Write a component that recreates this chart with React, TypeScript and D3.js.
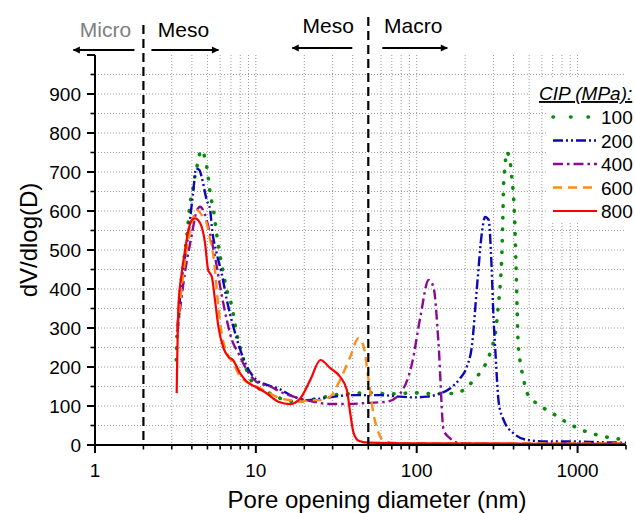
import React, { useEffect, useRef } from 'react';
import * as d3 from 'd3';

// pore opening diameter (nm) and dV/dlog(D) for each CIP pressure
const dia100 = [3.2, 3.25, 3.3, 3.38, 3.55, 3.72, 3.9, 4.05, 4.19, 4.4, 4.54, 4.72, 4.95, 5.08, 5.2, 5.45, 5.7, 6.0, 6.28, 6.6, 7.1, 7.6, 8.17, 9, 10.1, 12.3, 14.1, 17.9, 20.8, 25, 30.4, 40.5, 51.4, 65.4, 78.8, 95.6, 116, 140, 170, 195, 231, 266, 292, 308, 324, 331, 339, 343, 347, 354, 361, 381, 390, 400, 405, 410, 416, 421, 427, 438, 458, 487, 555, 677, 840, 1040, 1320, 1680, 2000];
const val100 = [218, 300, 320, 389, 466, 534, 620, 654, 692, 731, 756, 748, 714, 679, 645, 603, 543, 483, 440, 397, 355, 286, 235, 179, 150, 132, 120, 111, 115, 120, 128, 132, 134, 131, 132, 134, 132, 132, 132, 141, 171, 205, 248, 286, 372, 415, 500, 580, 671, 714, 752, 726, 684, 637, 595, 526, 432, 346, 261, 218, 175, 132, 107, 85, 60, 40, 26, 17, 14];

const dia200 = [3.25, 3.46, 3.81, 4.09, 4.25, 4.46, 4.6, 4.95, 5.2, 5.32, 5.7, 6.13, 6.6, 7.25, 8, 8.8, 10.1, 11.7, 13.8, 17.1, 20.8, 26.3, 33.4, 42.4, 50, 59.4, 78.8, 95.6, 116, 140, 161, 186, 205, 220, 237, 254, 266, 280, 292, 300, 308, 324, 347, 400, 487, 646, 943, 1400, 2000];
const val200 = [300, 423, 543, 654, 709, 705, 688, 628, 603, 560, 492, 440, 372, 303, 244, 201, 167, 154, 145, 124, 115, 120, 126, 128, 128, 128, 124, 122, 124, 132, 145, 171, 201, 252, 406, 543, 585, 577, 457, 329, 244, 107, 64, 30, 13, 9, 9, 7, 6];

const dia400 = [3.25, 3.63, 4.0, 4.25, 4.5, 4.83, 5.2, 5.57, 6.0, 6.6, 7.1, 7.8, 8.8, 10.1, 12.3, 14.1, 20.8, 29, 36.8, 50, 65, 78.8, 93.5, 105.4, 118.6, 127, 136.6, 147, 161.5, 186, 300, 1000, 2000];
const val400 = [290, 444, 540, 595, 611, 590, 540, 483, 406, 320, 269, 235, 192, 162, 150, 137, 115, 105, 105, 108, 111, 132, 209, 329, 423, 406, 261, 38, 17, 4, 3, 3, 3];

const dia600 = [3.25, 3.63, 4.0, 4.29, 4.6, 4.95, 5.2, 5.45, 5.85, 6.13, 6.6, 7.25, 8, 10.1, 12.3, 14.1, 16.3, 18.9, 21.8, 25.2, 29, 33.4, 38.6, 43.5, 46.8, 50.2, 53.8, 57.9, 62.1, 75, 200, 2000];
const val600 = [300, 474, 570, 603, 590, 568, 526, 483, 355, 286, 236, 209, 175, 150, 132, 120, 115, 111, 115, 115, 124, 167, 226, 274, 252, 167, 81, 31, 11, 5, 4, 4];

const dia800 = [3.22, 3.3, 3.46, 3.63, 3.81, 4.0, 4.19, 4.5, 4.83, 5.05, 5.32, 5.57, 5.85, 6.3, 6.75, 7.2, 7.98, 8.8, 10.1, 11.7, 13.8, 16.3, 18.9, 21.8, 25.2, 29, 33.4, 36.8, 38.6, 40.5, 43.5, 50, 100, 2000];
const val800 = [133, 355, 441, 500, 551, 577, 581, 569, 518, 449, 432, 372, 303, 248, 226, 218, 184, 162, 148, 132, 111, 105, 120, 167, 218, 197, 175, 141, 82, 31, 11, 6, 4, 3];

const pressures = ['100', '200', '400', '600', '800'];
const yTickLabels = ['0', '100', '200', '300', '400', '500', '600', '700', '800', '900'];
const xTickLabels = ['1', '10', '100', '1000'];
const boundaries = [2, 50];

const W = 635;
const H = 513;
const font = '"Liberation Sans", Arial, sans-serif';

export default function App() {
  const ref = useRef<SVGSVGElement>(null);

  useEffect(() => {
    const svg = d3.select(ref.current);
    svg.selectAll('*').remove();

    const x = d3.scaleLog().domain([1, 2000]).range([95, 626]);
    const y = d3.scaleLinear().domain([0, 1000]).range([445, 55]);

    const defs = svg.append('defs');
    defs
      .append('marker')
      .attr('id', 'arr')
      .attr('viewBox', '0 0 10 10')
      .attr('refX', 9)
      .attr('refY', 5)
      .attr('markerWidth', 5)
      .attr('markerHeight', 4)
      .attr('markerUnits', 'strokeWidth')
      .attr('orient', 'auto')
      .append('path')
      .attr('d', 'M0,0 L10,5 L0,10 Z')
      .attr('fill', '#000');

    /* ------- GRID -------*/
    const grid = svg.append('g');
    const yGrid = d3.range(50, 1000, 50);
    grid
      .selectAll('line.h')
      .data(yGrid)
      .enter()
      .append('line')
      .attr('x1', x(1))
      .attr('x2', x(2000))
      .attr('y1', d => y(d))
      .attr('y2', d => y(d))
      .attr('stroke', '#9a9a9a')
      .attr('stroke-width', 1)
      .attr('stroke-dasharray', '1 2');

    const xGrid: number[] = [];
    [1, 10, 100].forEach(dec => {
      for (let k = 2; k <= 10; k++) xGrid.push(k * dec);
    });
    grid
      .selectAll('line.v')
      .data(xGrid.filter(d => boundaries.indexOf(d) < 0))
      .enter()
      .append('line')
      .attr('x1', d => x(d))
      .attr('x2', d => x(d))
      .attr('y1', y(1000))
      .attr('y2', y(0))
      .attr('stroke', '#9a9a9a')
      .attr('stroke-width', 1)
      .attr('stroke-dasharray', '1 2');

    /* ------- LEGEND BACKGROUND -------*/
    svg.append('rect').attr('x', 530).attr('y', 77).attr('width', 105).attr('height', 27).attr('fill', '#fff');
    svg.append('rect').attr('x', 546).attr('y', 104).attr('width', 89).attr('height', 118).attr('fill', '#fff');

    /* ------- CURVES -------*/
    const series = [
      { dia: dia100, val: val100, color: '#0b8a0b', dash: '0.5 11', width: 3.6, cap: 'round' },
      { dia: dia200, val: val200, color: '#0a0ab4', dash: '10 3 2 3 2 3', width: 2.4, cap: 'butt' },
      { dia: dia400, val: val400, color: '#8a0a92', dash: '10 4 2.5 4', width: 2.4, cap: 'butt' },
      { dia: dia600, val: val600, color: '#ff8c1a', dash: '9 6', width: 2.4, cap: 'butt' },
      { dia: dia800, val: val800, color: '#ff0000', dash: null, width: 2.2, cap: 'butt' }
    ];

    const line = d3
      .line<[number, number]>()
      .x(d => x(d[0]))
      .y(d => y(d[1]))
      .curve(d3.curveMonotoneX);

    const curves = svg.append('g');
    series.forEach(s => {
      const pts: [number, number][] = s.dia.map((d, i) => [d, s.val[i]]);
      curves
        .append('path')
        .attr('d', line(pts))
        .attr('fill', 'none')
        .attr('stroke', s.color)
        .attr('stroke-width', s.width)
        .attr('stroke-linecap', s.cap)
        .attr('stroke-dasharray', s.dash);
    });

    /* ------- BOUNDARY LINES -------*/
    svg
      .selectAll('line.bound')
      .data(boundaries)
      .enter()
      .append('line')
      .attr('x1', d => x(d))
      .attr('x2', d => x(d))
      .attr('y1', (d, i) => (i === 0 ? 25 : 17))
      .attr('y2', y(0))
      .attr('stroke', '#000')
      .attr('stroke-width', 2.2)
      .attr('stroke-dasharray', '9 5');

    /* ------- AXES -------*/
    const axes = svg.append('g').attr('stroke', '#000').attr('stroke-width', 2);
    axes.append('line').attr('x1', x(1)).attr('x2', x(2000)).attr('y1', y(0)).attr('y2', y(0));
    axes.append('line').attr('x1', x(1)).attr('x2', x(1)).attr('y1', y(0)).attr('y2', y(1000));

    const xMajor = [1, 10, 100, 1000];
    const xMinor: number[] = [];
    [1, 10, 100, 1000].forEach(dec => {
      for (let k = 2; k <= 9; k++) if (k * dec <= 2000) xMinor.push(k * dec);
    });
    axes
      .selectAll('line.xmaj')
      .data(xMajor)
      .enter()
      .append('line')
      .attr('x1', d => x(d))
      .attr('x2', d => x(d))
      .attr('y1', y(0))
      .attr('y2', y(0) + 8);
    axes
      .selectAll('line.xmin')
      .data(xMinor)
      .enter()
      .append('line')
      .attr('x1', d => x(d))
      .attr('x2', d => x(d))
      .attr('y1', y(0))
      .attr('y2', y(0) + 4.5)
      .attr('stroke-width', 1.6);

    const yMajor = d3.range(0, 1001, 100);
    const yMinor = d3.range(50, 1000, 100);
    axes
      .selectAll('line.ymaj')
      .data(yMajor)
      .enter()
      .append('line')
      .attr('x1', x(1))
      .attr('x2', x(1) - 8)
      .attr('y1', d => y(d))
      .attr('y2', d => y(d));
    axes
      .selectAll('line.ymin')
      .data(yMinor)
      .enter()
      .append('line')
      .attr('x1', x(1))
      .attr('x2', x(1) - 4.5)
      .attr('y1', d => y(d))
      .attr('y2', d => y(d))
      .attr('stroke-width', 1.6);

    svg
      .selectAll('text.yt')
      .data(yTickLabels)
      .enter()
      .append('text')
      .attr('x', 81)
      .attr('y', d => y(+d) + 7)
      .attr('text-anchor', 'end')
      .attr('font-family', font)
      .attr('font-size', 19)
      .text(d => d);

    svg
      .selectAll('text.xt')
      .data(xTickLabels)
      .enter()
      .append('text')
      .attr('x', d => x(+d))
      .attr('y', 477)
      .attr('text-anchor', 'middle')
      .attr('font-family', font)
      .attr('font-size', 19)
      .text(d => d);

    svg
      .append('text')
      .attr('x', 377)
      .attr('y', 508)
      .attr('text-anchor', 'middle')
      .attr('font-family', font)
      .attr('font-size', 24)
      .text('Pore opening diameter (nm)');

    svg
      .append('text')
      .attr('transform', 'translate(37,240) rotate(-90)')
      .attr('text-anchor', 'middle')
      .attr('font-family', font)
      .attr('font-size', 24)
      .text('dV/dlog(D)');

    /* ------- REGION LABELS -------*/
    const x2 = x(2);
    const x50 = x(50);
    const regions = [
      { text: 'Micro', color: '#808080', tx: x2 - 38, ty: 37, a1: x2 - 9, a2: x2 - 70, ay: 50 },
      { text: 'Meso', color: '#000', tx: x2 + 40, ty: 37, a1: x2 + 8, a2: x2 + 75, ay: 50 },
      { text: 'Meso', color: '#000', tx: x50 - 40, ty: 33, a1: x50 - 16, a2: x50 - 76, ay: 48 },
      { text: 'Macro', color: '#000', tx: x50 + 45, ty: 33, a1: x50 + 14, a2: x50 + 79, ay: 48 }
    ];
    regions.forEach(r => {
      svg
        .append('text')
        .attr('x', r.tx)
        .attr('y', r.ty)
        .attr('text-anchor', 'middle')
        .attr('font-family', font)
        .attr('font-size', 21)
        .attr('fill', r.color)
        .text(r.text);
      svg
        .append('line')
        .attr('x1', r.a1)
        .attr('x2', r.a2)
        .attr('y1', r.ay)
        .attr('y2', r.ay)
        .attr('stroke', '#000')
        .attr('stroke-width', 1.8)
        .attr('marker-end', 'url(#arr)');
    });

    /* ------- LEGEND -------*/
    svg
      .append('text')
      .attr('x', 539)
      .attr('y', 100)
      .attr('font-family', font)
      .attr('font-size', 19)
      .attr('font-style', 'italic')
      .attr('text-decoration', 'underline')
      .text('CIP (MPa):');

    const rowY = (i: number) => 117 + i * 23.5;
    series.forEach((s, i) => {
      svg
        .append('line')
        .attr('x1', 553)
        .attr('x2', 597)
        .attr('y1', rowY(i))
        .attr('y2', rowY(i))
        .attr('stroke', s.color)
        .attr('stroke-width', s.width)
        .attr('stroke-linecap', s.cap)
        .attr('stroke-dasharray', i === 0 ? '0.5 17' : s.dash);
      svg
        .append('text')
        .attr('x', 601)
        .attr('y', rowY(i) + 7)
        .attr('font-family', font)
        .attr('font-size', 19)
        .text(pressures[i]);
    });
  }, []);

  return (
    <svg
      ref={ref}
      width={W}
      height={H}
      style={{ position: 'absolute', left: 0, top: 0, background: '#fff' }}
    />
  );
}
